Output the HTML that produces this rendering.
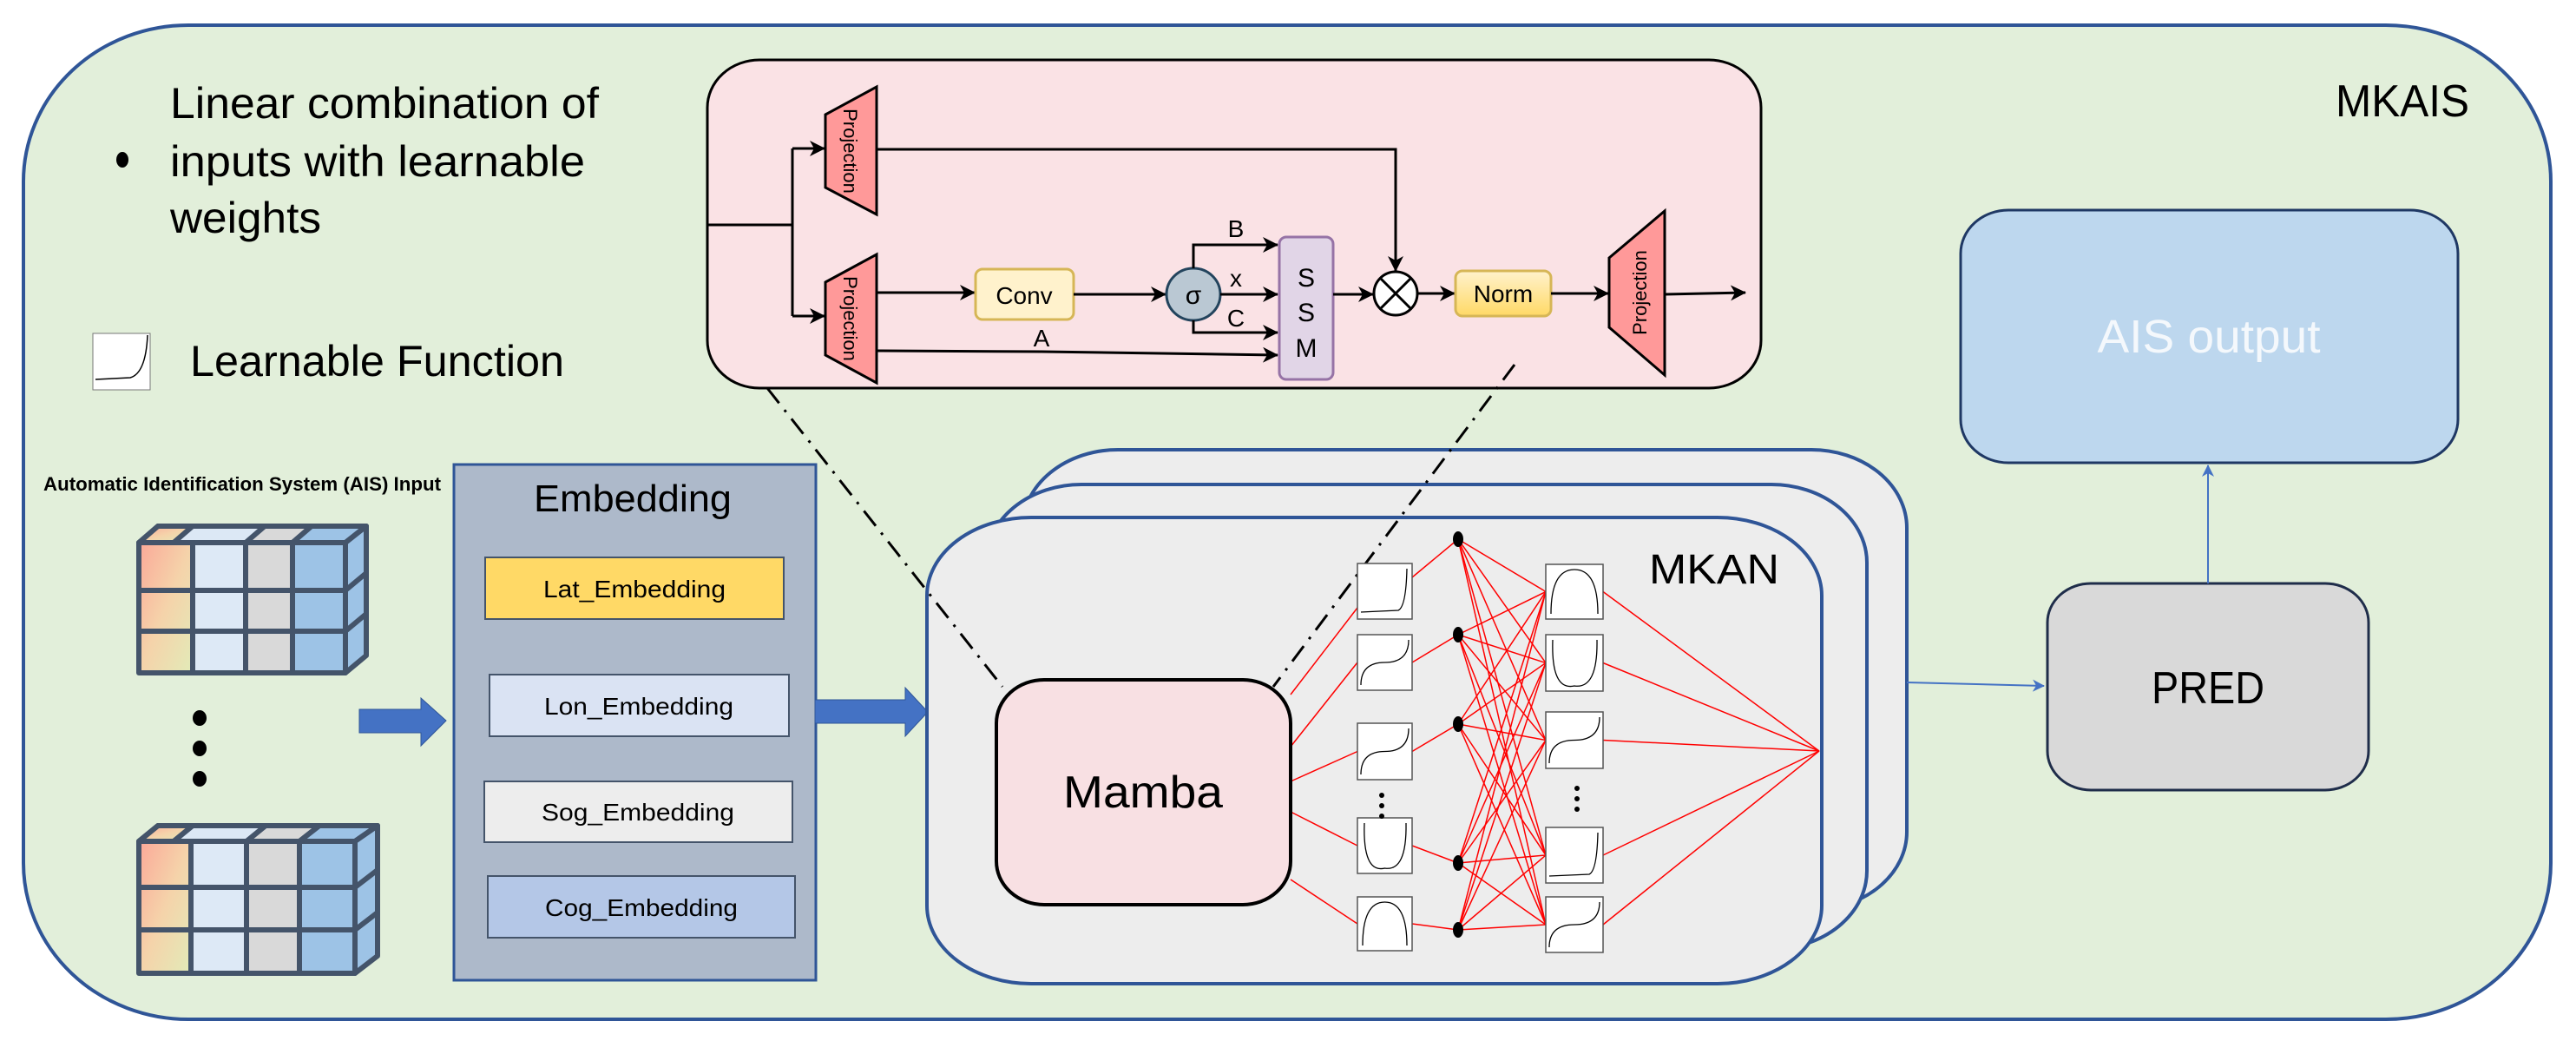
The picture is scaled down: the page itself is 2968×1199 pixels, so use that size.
<!DOCTYPE html>
<html><head><meta charset="utf-8"><style>html,body{margin:0;padding:0;background:#fff}svg{display:block}</style></head>
<body>
<svg id="s" xmlns="http://www.w3.org/2000/svg" width="2968" height="1199" viewBox="0 0 2968 1199" font-family="Liberation Sans, sans-serif">
<defs>
<marker id="ah" markerWidth="18" markerHeight="18" refX="17" refY="9" orient="auto" markerUnits="userSpaceOnUse" viewBox="0 0 18 18"><path d="M0,0 L18,9 L0,18 L5,9 z" fill="#000"/></marker>
<marker id="ahb" markerWidth="14" markerHeight="14" refX="13" refY="7" orient="auto" markerUnits="userSpaceOnUse" viewBox="0 0 14 14"><path d="M0,0 L14,7 L0,14 L4,7 z" fill="#4472c4"/></marker>
<linearGradient id="g1" x1="0" y1="0" x2="1" y2="1"><stop offset="0" stop-color="#fba898"/><stop offset="0.5" stop-color="#f5d3aa"/><stop offset="1" stop-color="#e2ebb8"/></linearGradient>
<linearGradient id="gn" x1="0" y1="0" x2="0" y2="1"><stop offset="0" stop-color="#fff2cc"/><stop offset="1" stop-color="#ffd966"/></linearGradient>
</defs>
<rect x="27" y="29" width="2912" height="1145" rx="190" ry="180" fill="#e2efda" stroke="#2f5597" stroke-width="4"/>
<text x="196" y="136" font-size="50" textLength="494" lengthAdjust="spacingAndGlyphs">Linear combination of</text>
<text x="196" y="203" font-size="50" textLength="478" lengthAdjust="spacingAndGlyphs">inputs with learnable</text>
<text x="196" y="268" font-size="50" textLength="174" lengthAdjust="spacingAndGlyphs">weights</text>
<ellipse cx="141" cy="184" rx="7" ry="9" fill="#000"/>
<rect x="107" y="384" width="66" height="65" fill="#fff" stroke="#777" stroke-width="1"/>
<path d="M110,437 L150,435 Q168,430 170,386" fill="none" stroke="#000" stroke-width="1.5"/>
<text x="219" y="433" font-size="50" textLength="431" lengthAdjust="spacingAndGlyphs">Learnable Function</text>
<text x="2691" y="134" font-size="52" textLength="154" lengthAdjust="spacingAndGlyphs">MKAIS</text>

<rect x="815" y="69" width="1214" height="378" rx="60" ry="55" fill="#fae2e5" stroke="#000" stroke-width="3"/>
<path d="M815,259 H913 M913,171 V364" stroke="#000" stroke-width="3" fill="none"/>
<path d="M913,171 H950" stroke="#000" stroke-width="3" marker-end="url(#ah)"/>
<path d="M913,364 H950" stroke="#000" stroke-width="3" marker-end="url(#ah)"/>
<polygon points="951,132 1010,100 1010,247 951,216" fill="#f99" stroke="#000" stroke-width="3"/>
<text transform="translate(972,174) rotate(90)" font-size="22" text-anchor="middle">Projection</text>
<polygon points="951,325 1010,293 1010,441 951,409" fill="#f99" stroke="#000" stroke-width="3"/>
<text transform="translate(972,367) rotate(90)" font-size="22" text-anchor="middle">Projection</text>
<path d="M1010,172 H1608 V312" stroke="#000" stroke-width="3" fill="none" marker-end="url(#ah)"/>
<path d="M1010,337 H1123" stroke="#000" stroke-width="3" marker-end="url(#ah)"/>
<rect x="1124" y="310" width="113" height="58" rx="8" fill="#fff2cc" stroke="#d6b656" stroke-width="3"/>
<text x="1180" y="350" font-size="28" text-anchor="middle">Conv</text>
<path d="M1237,339 H1343" stroke="#000" stroke-width="3" marker-end="url(#ah)"/>
<ellipse cx="1375" cy="339" rx="31" ry="30" fill="#bac8d3" stroke="#23445d" stroke-width="3"/>
<text x="1375" y="350" font-size="30" text-anchor="middle">σ</text>
<path d="M1375,309 V282 H1472" stroke="#000" stroke-width="3" fill="none" marker-end="url(#ah)"/>
<path d="M1406,339 H1472" stroke="#000" stroke-width="3" marker-end="url(#ah)"/>
<path d="M1375,369 V383 H1472" stroke="#000" stroke-width="3" fill="none" marker-end="url(#ah)"/>
<path d="M1010,404 L1200,405 L1472,409" stroke="#000" stroke-width="3" fill="none" marker-end="url(#ah)"/>
<text x="1424" y="273" font-size="28" text-anchor="middle">B</text>
<text x="1424" y="330" font-size="28" text-anchor="middle">x</text>
<text x="1424" y="376" font-size="28" text-anchor="middle">C</text>
<text x="1200" y="399" font-size="28" text-anchor="middle">A</text>
<rect x="1474" y="273" width="62" height="164" rx="8" fill="#e1d5e7" stroke="#9673a6" stroke-width="3"/>
<text x="1505" y="330" font-size="30" text-anchor="middle">S</text>
<text x="1505" y="370" font-size="30" text-anchor="middle">S</text>
<text x="1505" y="411" font-size="30" text-anchor="middle">M</text>
<path d="M1536,339 H1582" stroke="#000" stroke-width="3" marker-end="url(#ah)"/>
<circle cx="1608" cy="338" r="25" fill="#fff" stroke="#000" stroke-width="3"/>
<path d="M1590,320 L1626,356 M1626,320 L1590,356" stroke="#000" stroke-width="3"/>
<path d="M1633,338 H1676" stroke="#000" stroke-width="3" marker-end="url(#ah)"/>
<rect x="1677" y="312" width="110" height="52" rx="8" fill="url(#gn)" stroke="#d6b656" stroke-width="3"/>
<text x="1732" y="348" font-size="28" text-anchor="middle">Norm</text>
<path d="M1787,338 H1853" stroke="#000" stroke-width="3" marker-end="url(#ah)"/>
<polygon points="1854,297 1918,243 1918,432 1854,377" fill="#f99" stroke="#000" stroke-width="3"/>
<text transform="translate(1897,337) rotate(-90)" font-size="22" text-anchor="middle">Projection</text>
<path d="M1918,339 L2011,337" stroke="#000" stroke-width="3" marker-end="url(#ah)"/>

<text x="50" y="565" font-size="22" font-weight="bold" textLength="458" lengthAdjust="spacingAndGlyphs">Automatic Identification System (AIS) Input</text>
<g stroke="#44546a" stroke-width="6" stroke-linejoin="round">
 <polygon points="160,625 182,606 422,606 398,625" fill="#dce8f5"/>
 <polygon points="160,625 182,606 222,606 200,625" fill="url(#g1)"/>
 <polygon points="283,625 305,606 359,606 337,625" fill="#d9d9d9"/>
 <polygon points="337,625 359,606 422,606 398,625" fill="#9dc3e6"/>
 <polygon points="398,625 422,606 422,755 398,775" fill="#9dc3e6"/>
 <rect x="160" y="625" width="62" height="150" fill="url(#g1)"/>
 <rect x="222" y="625" width="61" height="150" fill="#dde9f6"/>
 <rect x="283" y="625" width="54" height="150" fill="#d9d9d9"/>
 <rect x="337" y="625" width="61" height="150" fill="#9dc3e6"/>
 <path d="M160,680 H398 M160,727 H398 M398,680 L422,660 M398,727 L422,707" fill="none"/>
</g>
<g stroke="#44546a" stroke-width="6" stroke-linejoin="round">
 <polygon points="160,969 182,951 435,951 409,969" fill="#dce8f5"/>
 <polygon points="160,969 182,951 222,951 200,969" fill="url(#g1)"/>
 <polygon points="284,969 306,951 368,951 345,969" fill="#d9d9d9"/>
 <polygon points="345,969 368,951 435,951 409,969" fill="#9dc3e6"/>
 <polygon points="409,969 435,951 435,1101 409,1121" fill="#9dc3e6"/>
 <rect x="160" y="969" width="60" height="152" fill="url(#g1)"/>
 <rect x="220" y="969" width="64" height="152" fill="#dde9f6"/>
 <rect x="284" y="969" width="61" height="152" fill="#d9d9d9"/>
 <rect x="345" y="969" width="64" height="152" fill="#9dc3e6"/>
 <path d="M160,1022 H409 M160,1071 H409 M409,1022 L435,1002 M409,1071 L435,1051" fill="none"/>
</g>
<ellipse cx="230" cy="827" rx="8" ry="9" fill="#000"/>
<ellipse cx="230" cy="862" rx="8" ry="9" fill="#000"/>
<ellipse cx="230" cy="897" rx="8" ry="9" fill="#000"/>
<polygon points="414,817 485,817 485,804 514,830 485,859 485,844 414,844" fill="#4472c4" stroke="#2f5597" stroke-width="1"/>

<rect x="523" y="535" width="417" height="594" fill="#adb9ca" stroke="#2f5597" stroke-width="3"/>
<text x="729" y="589" font-size="44" text-anchor="middle" textLength="228" lengthAdjust="spacingAndGlyphs">Embedding</text>
<rect x="559" y="642" width="344" height="71" fill="#ffd966" stroke="#44546a" stroke-width="2"/>
<text x="731" y="688" font-size="28" text-anchor="middle" textLength="210" lengthAdjust="spacingAndGlyphs">Lat_Embedding</text>
<rect x="564" y="777" width="345" height="71" fill="#dae3f3" stroke="#44546a" stroke-width="2"/>
<text x="736" y="823" font-size="28" text-anchor="middle" textLength="218" lengthAdjust="spacingAndGlyphs">Lon_Embedding</text>
<rect x="558" y="900" width="355" height="70" fill="#ededed" stroke="#44546a" stroke-width="2"/>
<text x="735" y="945" font-size="28" text-anchor="middle" textLength="222" lengthAdjust="spacingAndGlyphs">Sog_Embedding</text>
<rect x="562" y="1009" width="354" height="71" fill="#b4c7e7" stroke="#44546a" stroke-width="2"/>
<text x="739" y="1055" font-size="28" text-anchor="middle" textLength="222" lengthAdjust="spacingAndGlyphs">Cog_Embedding</text>
<polygon points="939,806 1043,806 1043,792 1069,820 1043,848 1043,833 939,833" fill="#4472c4" stroke="#2f5597" stroke-width="1"/>

<rect x="1178" y="518" width="1019" height="530" rx="110" ry="90" fill="#ededed" stroke="#2f5597" stroke-width="4"/>
<rect x="1136" y="558" width="1015" height="535" rx="110" ry="90" fill="#ededed" stroke="#2f5597" stroke-width="4"/>
<rect x="1068" y="596" width="1031" height="537" rx="120" ry="90" fill="#ededed" stroke="#2f5597" stroke-width="4"/>
<text x="1900" y="672" font-size="48" textLength="150" lengthAdjust="spacingAndGlyphs">MKAN</text>
<path d="M884,447 L1155,791" stroke="#000" stroke-width="3" stroke-dasharray="22,10,3,10" fill="none"/>
<path d="M1745,420 L1467,791" stroke="#000" stroke-width="3" stroke-dasharray="22,10,3,10" fill="none"/>
<g id="red" stroke="#f00" stroke-width="1.5" fill="none"></g>
<rect x="1148" y="783" width="339" height="259" rx="55" ry="50" fill="#f8e0e3" stroke="#000" stroke-width="4"/>
<text x="1317" y="930" font-size="52" text-anchor="middle" textLength="184" lengthAdjust="spacingAndGlyphs">Mamba</text>
<g id="fb" stroke="#555" stroke-width="1.5"></g>
<g fill="#000">
<circle cx="1592" cy="916" r="3"/><circle cx="1592" cy="928" r="3"/><circle cx="1592" cy="940" r="3"/>
<circle cx="1817" cy="908" r="3"/><circle cx="1817" cy="920" r="3"/><circle cx="1817" cy="932" r="3"/>
<ellipse cx="1680" cy="621" rx="6" ry="9"/><ellipse cx="1680" cy="731" rx="6" ry="9"/><ellipse cx="1680" cy="834" rx="6" ry="9"/><ellipse cx="1680" cy="994" rx="6" ry="9"/><ellipse cx="1680" cy="1071" rx="6" ry="9"/>
</g>

<path d="M2197,786 L2355,790" stroke="#4472c4" stroke-width="2" marker-end="url(#ahb)"/>
<rect x="2359" y="672" width="370" height="238" rx="50" ry="45" fill="#d9d9d9" stroke="#1f2d4a" stroke-width="3"/>
<text x="2544" y="810" font-size="52" text-anchor="middle" textLength="130" lengthAdjust="spacingAndGlyphs">PRED</text>
<path d="M2544,672 V536" stroke="#4472c4" stroke-width="2" marker-end="url(#ahb)"/>
<rect x="2259" y="242" width="573" height="291" rx="55" ry="50" fill="#bdd7ee" stroke="#1f3864" stroke-width="3"/>
<text x="2545" y="406" font-size="54" text-anchor="middle" fill="#f4f8fc" textLength="257" lengthAdjust="spacingAndGlyphs">AIS output</text>
</svg>
<script>
var NS="http://www.w3.org/2000/svg";
function el(p,t,a){var e=document.createElementNS(NS,t);for(var k in a)e.setAttribute(k,a[k]);p.appendChild(e);return e;}
var red=document.getElementById('red'),fb=document.getElementById('fb');
var c1=[[649,713],[731,795],[833,898],[942,1006],[1033,1095]];
var c2=[[650,713],[731,796],[820,885],[953,1017],[1033,1097]];
var nodes=[621,731,834,994,1071];
var my=[800,860,900,935,1013];
for(var i=0;i<5;i++){
 var m=(c1[i][0]+c1[i][1])/2;
 el(red,'line',{x1:1487,y1:my[i],x2:1564,y2:i==0?700:m});
 el(red,'line',{x1:1627,y1:i==0?665:m,x2:1680,y2:nodes[i]});
 for(var j=0;j<5;j++){var m2=(c2[j][0]+c2[j][1])/2;el(red,'line',{x1:1680,y1:nodes[i],x2:1781,y2:m2});}
 var m3=(c2[i][0]+c2[i][1])/2;el(red,'line',{x1:1847,y1:m3,x2:2096,y2:865});
}
var sh1=['rise','s','s','u','cap'],sh2=['cap','u','s','rise','s'];
function curve(x,y,w,h,t){var L=x+4,R=x+w-4,T=y+6,B=y+h-6,d;
 if(t=='rise')d='M'+L+','+(B-2)+' L'+(R-12)+','+(B-4)+' Q'+(R-3)+','+(B-8)+' '+(R-2)+','+T;
 else if(t=='s')d='M'+L+','+B+' Q'+L+','+(y+h/2)+' '+(x+w/2)+','+(y+h/2)+' Q'+R+','+(y+h/2)+' '+R+','+T;
 else if(t=='u')d='M'+(L+4)+','+T+' Q'+(L+2)+','+(B+6)+' '+(x+w/2)+','+B+' Q'+(R-2)+','+(B+4)+' '+(R-3)+','+T;
 else d='M'+(L+2)+','+B+' Q'+(L+2)+','+T+' '+(x+w/2)+','+T+' Q'+(R-2)+','+T+' '+(R-2)+','+B;
 return d;}
for(var i=0;i<5;i++){
 el(fb,'rect',{x:1564,y:c1[i][0],width:63,height:c1[i][1]-c1[i][0],fill:'#fff'});
 el(fb,'path',{d:curve(1564,c1[i][0],63,c1[i][1]-c1[i][0],sh1[i]),fill:'none',stroke:'#000','stroke-width':1.3});
 el(fb,'rect',{x:1781,y:c2[i][0],width:66,height:c2[i][1]-c2[i][0],fill:'#fff'});
 el(fb,'path',{d:curve(1781,c2[i][0],66,c2[i][1]-c2[i][0],sh2[i]),fill:'none',stroke:'#000','stroke-width':1.3});
}
</script>
</body></html>
